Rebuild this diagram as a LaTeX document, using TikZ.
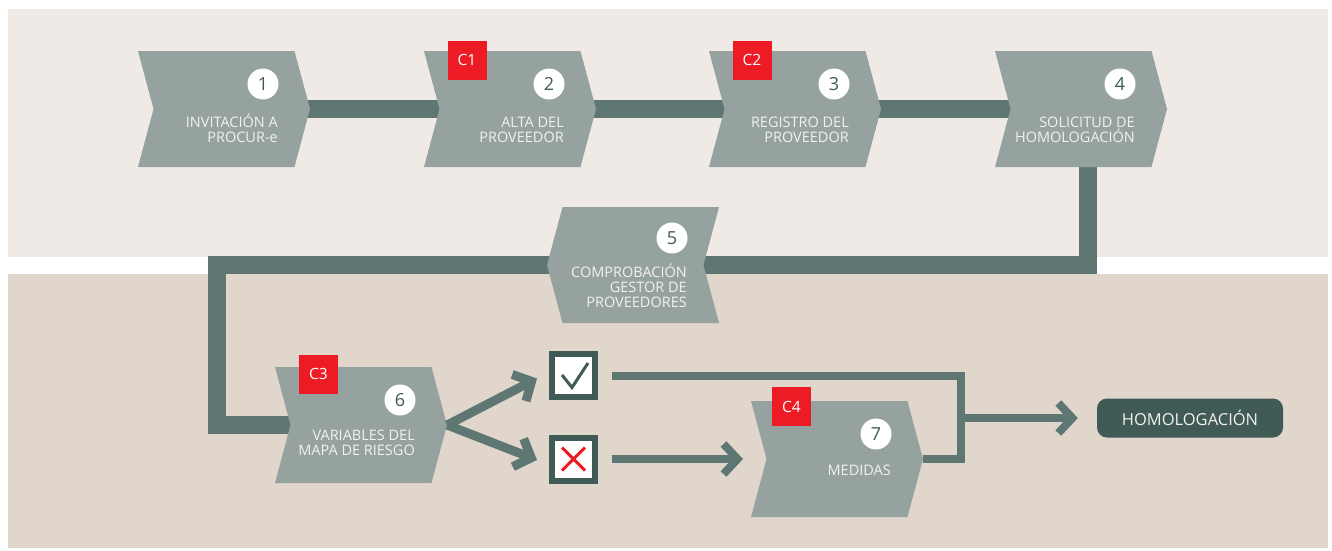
\documentclass[tikz,border=0pt]{standalone}
\usepackage{fontspec}
\setmainfont{Open Sans}
\usetikzlibrary{arrows.meta,shapes.symbols,backgrounds}
\definecolor{PRTop}{HTML}{EFEAE6}
\definecolor{PRLow}{HTML}{E0D6CB}
\definecolor{PRBox}{HTML}{95A29F}
\definecolor{PRBar}{HTML}{5E7773}
\definecolor{PRDark}{HTML}{405A56}
\definecolor{PRRed}{HTML}{ED1C24}
\definecolor{PRText}{HTML}{F3F1ED}

\begin{document}
\begin{tikzpicture}[x=1pt,y=-1pt,
  stage/.style={signal, signal to=east, signal from=west, signal pointer angle=150,
    fill=PRBox, minimum width=172pt, minimum height=116pt, inner sep=0pt},
  stagetext/.style={align=right, text=PRText, inner sep=0pt, anchor=base east,
    font=\fontsize{14.5}{15}\selectfont},
  num/.style={circle, fill=white, minimum size=31pt, inner sep=0pt, text=PRDark,
    font=\fontsize{18}{18}\selectfont},
  ctrl/.style={fill=PRRed, text=white, minimum size=39pt, inner sep=0pt,
    font=\fontsize{15.5}{16}\selectfont},
  bar/.style={PRBar, line width=18pt, line join=miter},
  link/.style={PRBar, line width=8pt, line join=miter},
  arr/.style={-{Straight Barb[sharp,length=14pt,width=30pt]}},
  choice/.style={draw=PRDark, line width=6pt, fill=white, minimum size=43pt, inner sep=0pt},
  endbox/.style={fill=PRDark, rounded corners=10pt, minimum width=186pt, minimum height=39pt,
    text=PRText, font=\fontsize{16.5}{17}\selectfont}]
\useasboundingbox (0,0) rectangle (1332,550);

% top row
\node[stage] (b1) at (224,109) {};
\node[stage] (b2) at (510,109) {};
\node[stage] (b3) at (795,109) {};
\node[stage] (b4) at (1081,109) {};
\node[num] (n1) at (263,84) {1};
\node[num] (n2) at (549,84) {2};
\node[num] (n3) at (834,84) {3};
\node[num] (n4) at (1120,84) {4};
\node[stagetext] (t1) at (278,142.5) {INVITACIÓN A\\PROCUR-e};
\node[stagetext] (t2) at (564,142.5) {ALTA DEL\\PROVEEDOR};
\node[stagetext] (t3) at (849,142.5) {REGISTRO DEL\\PROVEEDOR};
\node[stagetext] (t4) at (1135,142.5) {SOLICITUD DE\\HOMOLOGACIÓN};
\node[ctrl] (c1) at (467,60) {C1};
\node[ctrl] (c2) at (752,60) {C2};

% middle
\node[stage, signal to=west, signal from=east] (b5) at (633,265) {};
\node[num] (n5) at (672,238) {5};
\node[stagetext] (t5) at (687,307.5) {COMPROBACIÓN\\GESTOR DE\\PROVEEDORES};

% lower row
\node[stage] (b6) at (361,425) {};
\node[num] (n6) at (400,400) {6};
\node[stagetext] (t6) at (415,455.5) {VARIABLES DEL\\MAPA DE RIESGO};
\node[ctrl] (c3) at (318.5,374) {C3};
\node[choice] (chk) at (573.5,375.5) {};
\node[choice] (crs) at (573.5,459) {};
\draw[PRDark, line width=3pt] ([shift={(-11.5,-0.5)}]chk.center) -- ([shift={(-1.5,12)}]chk.center)
  -- ([shift={(14.5,-12.5)}]chk.center);
\draw[PRRed, line width=3pt] ([shift={(-11.5,-11.5)}]crs.center) -- ([shift={(11.5,11.5)}]crs.center)
  ([shift={(-11.5,11.5)}]crs.center) -- ([shift={(11.5,-11.5)}]crs.center);
\node[stage] (b7) at (837,459) {};
\node[num] (n7) at (876,434) {7};
\node[stagetext] (t7) at (891,475.5) {MEDIDAS};
\node[ctrl] (c4) at (791.5,406.5) {C4};
\node[endbox] (end) at (1190,418) {HOMOLOGACIÓN};

\coordinate (turn1) at (1088,265);
\coordinate (turn2) at (217,425);
\coordinate (merge) at (961,418);
\coordinate (medin) at (743,459);

\draw[link, line width=9pt, arr] (b6.east) -- ([shift={(-12,3)}]chk.west);
\draw[link, line width=9pt, arr] (b6.east) -- ([shift={(-12,1)}]crs.west);
\draw[link] ([xshift=14pt]chk.east) -| (merge) |- (b7.east);
\draw[link, arr] ([xshift=14pt]crs.east) -- (medin);
\draw[link, arr] (merge) -- ([xshift=-19pt]end.west);

\begin{scope}[on background layer]
  \fill[PRTop] (8,9) rectangle (1328,257);
  \fill[PRLow] (8,274) rectangle (1328,548);
  \draw[bar] (b1.center) -- (b4.center) -| (turn1) -- (b5.center) -| (turn2) -- (b6.center);
\end{scope}
\end{tikzpicture}
\end{document}
